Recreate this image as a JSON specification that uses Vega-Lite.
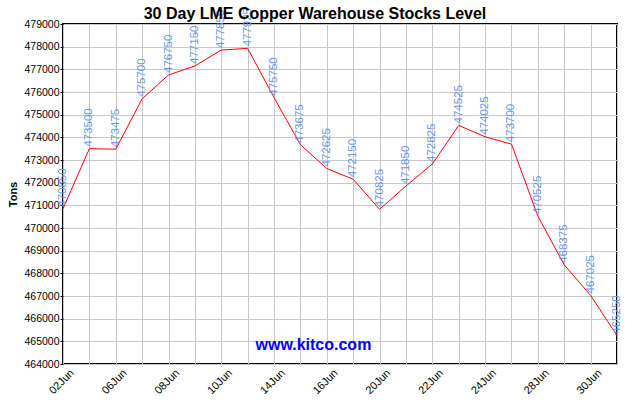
{
  "$schema": "https://vega.github.io/schema/vega-lite/v6.json",
  "width": 554,
  "height": 340,
  "autosize": {"type": "none"},
  "padding": {"left": 63, "top": 24, "right": 13, "bottom": 36},
  "background": "white",
  "config": {
    "font": "Liberation Sans",
    "view": {"stroke": "#000000", "strokeWidth": 2},
    "axis": {"gridColor": "#C8C8C8", "gridWidth": 1, "gridOpacity": 1, "domain": false, "labelColor": "#000000", "labelFont": "Liberation Sans"}
  },
  "title": {
    "text": "30 Day LME Copper Warehouse Stocks Level",
    "font": "Liberation Sans",
    "fontSize": 16,
    "fontWeight": "bold",
    "color": "#000000",
    "anchor": "middle",
    "frame": "group",
    "dx": -25,
    "baseline": "alphabetic",
    "offset": -27
  },
  "data": {
    "values": [
      {"date": "02Jun", "tons": 470850},
      {"date": "03Jun", "tons": 473500},
      {"date": "06Jun", "tons": 473475},
      {"date": "07Jun", "tons": 475700},
      {"date": "08Jun", "tons": 476750},
      {"date": "09Jun", "tons": 477150},
      {"date": "10Jun", "tons": 477850},
      {"date": "13Jun", "tons": 477925},
      {"date": "14Jun", "tons": 475750},
      {"date": "15Jun", "tons": 473675},
      {"date": "16Jun", "tons": 472625},
      {"date": "17Jun", "tons": 472150},
      {"date": "20Jun", "tons": 470825},
      {"date": "21Jun", "tons": 471850},
      {"date": "22Jun", "tons": 472825},
      {"date": "23Jun", "tons": 474525},
      {"date": "24Jun", "tons": 474025},
      {"date": "27Jun", "tons": 473700},
      {"date": "28Jun", "tons": 470525},
      {"date": "29Jun", "tons": 468375},
      {"date": "30Jun", "tons": 467025},
      {"date": "01Jul", "tons": 465250}
    ]
  },
  "encoding": {
    "x": {
      "field": "date",
      "type": "ordinal",
      "sort": null,
      "scale": {
        "type": "point",
        "padding": 0,
        "domain": ["02Jun", "03Jun", "06Jun", "07Jun", "08Jun", "09Jun", "10Jun", "13Jun", "14Jun", "15Jun", "16Jun", "17Jun", "20Jun", "21Jun", "22Jun", "23Jun", "24Jun", "27Jun", "28Jun", "29Jun", "30Jun", "01Jul"]
      },
      "axis": {
        "title": null,
        "grid": true,
        "ticks": false,
        "labelAngle": -45,
        "labelAlign": "right",
        "labelBaseline": "middle",
        "labelOffset": 9,
        "labelPadding": 7,
        "labelFontSize": 11,
        "labelOverlap": false,
        "labelExpr": "indexof(['02Jun','06Jun','08Jun','10Jun','14Jun','16Jun','20Jun','22Jun','24Jun','28Jun','30Jun'], datum.value) >= 0 ? datum.value : ''"
      }
    },
    "y": {
      "field": "tons",
      "type": "quantitative",
      "scale": {"domain": [464000, 479000], "zero": false, "nice": false},
      "axis": {
        "title": "Tons",
        "titleFont": "Liberation Sans",
        "titleFontSize": 11,
        "titleFontWeight": "bold",
        "titleColor": "#000000",
        "titlePadding": 5,
        "values": [464000, 465000, 466000, 467000, 468000, 469000, 470000, 471000, 472000, 473000, 474000, 475000, 476000, 477000, 478000, 479000],
        "format": "d",
        "grid": true,
        "ticks": true,
        "tickSize": 3,
        "tickColor": "#000000",
        "labelPadding": 1,
        "labelFontSize": 10.5
      }
    }
  },
  "layer": [
    {
      "mark": {"type": "line", "color": "#FF0000", "strokeWidth": 1}
    },
    {
      "mark": {"type": "text", "angle": 270, "align": "left", "baseline": "middle", "dx": 2, "color": "#6495ED", "fontSize": 11.5, "font": "Liberation Sans"},
      "encoding": {
        "text": {"field": "tons", "type": "quantitative", "format": "d"}
      }
    },
    {
      "data": {"values": [{"site": "www.kitco.com", "date": "15Jun", "tons": 464840}]},
      "mark": {"type": "text", "align": "center", "baseline": "middle", "dx": 13, "color": "#0000FF", "fontSize": 16, "fontWeight": "bold", "font": "Liberation Sans"},
      "encoding": {
        "text": {"field": "site", "type": "nominal"}
      }
    }
  ]
}
